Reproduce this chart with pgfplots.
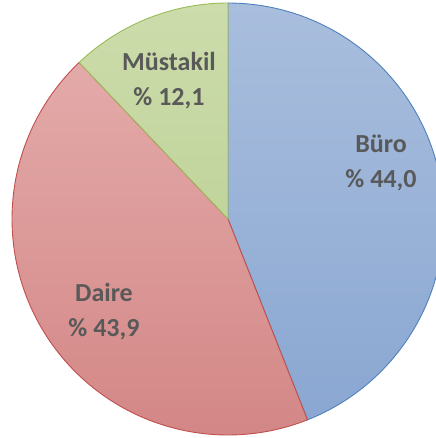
\documentclass[border=0pt]{standalone}
\usepackage{pgfplots}
\pgfplotsset{compat=1.18}
\usepackage{fontspec}
\setmainfont{Carlito}
\definecolor{txt}{HTML}{595959}
\definecolor{bline}{HTML}{4F81BD}
\definecolor{btop}{HTML}{A9BEDD}
\definecolor{bbot}{HTML}{8AA7D2}
\definecolor{dline}{HTML}{C0504D}
\definecolor{dtop}{HTML}{E3AAA9}
\definecolor{dbot}{HTML}{D38786}
\definecolor{mline}{HTML}{9BBB59}
\definecolor{mtop}{HTML}{CCDCAB}
\definecolor{mbot}{HTML}{C1D49C}
% shares in percent
\def\pBuro{44.0}
\def\pDaire{43.9}
\def\pMust{12.1}
\def\cx{228}\def\cy{219}\def\rr{216}
\pgfmathsetmacro{\aA}{90}
\pgfmathsetmacro{\aB}{90-\pBuro*3.6}
\pgfmathsetmacro{\aC}{\aB-\pDaire*3.6}
\pgfmathsetmacro{\aD}{\aC-\pMust*3.6}
\begin{document}
\begin{tikzpicture}
\useasboundingbox (0,0) rectangle (436bp,438bp);
\begin{axis}[width=436bp,height=438bp,scale only axis,at={(0,0)},anchor=south west,
  xmin=0,xmax=436,ymin=0,ymax=438,axis lines=none,clip=true]
\addplot[draw=bline,line width=0.9bp,top color=btop,bottom color=bbot,domain=\aB:\aA,samples=120]
  ({\cx+\rr*cos(x)},{\cy+\rr*sin(x)}) -- (axis cs:\cx,\cy) -- cycle;
\addplot[draw=dline,line width=0.9bp,top color=dtop,bottom color=dbot,domain=\aC:\aB,samples=120]
  ({\cx+\rr*cos(x)},{\cy+\rr*sin(x)}) -- (axis cs:\cx,\cy) -- cycle;
\addplot[draw=mline,line width=0.9bp,top color=mtop,bottom color=mbot,domain=\aD:\aC,samples=40]
  ({\cx+\rr*cos(x)},{\cy+\rr*sin(x)}) -- (axis cs:\cx,\cy) -- cycle;
\node[text=txt,font=\fontsize{26bp}{35bp}\selectfont\bfseries,align=center] at (axis cs:169,357) {Müstakil\\\% 12,1};
\node[text=txt,font=\fontsize{26bp}{35bp}\selectfont\bfseries,align=center] at (axis cs:381,275) {Büro\\\% 44,0};
\node[text=txt,font=\fontsize{26bp}{35bp}\selectfont\bfseries,align=center] at (axis cs:104,126) {Daire\\\% 43,9};
\end{axis}
\end{tikzpicture}
\end{document}
